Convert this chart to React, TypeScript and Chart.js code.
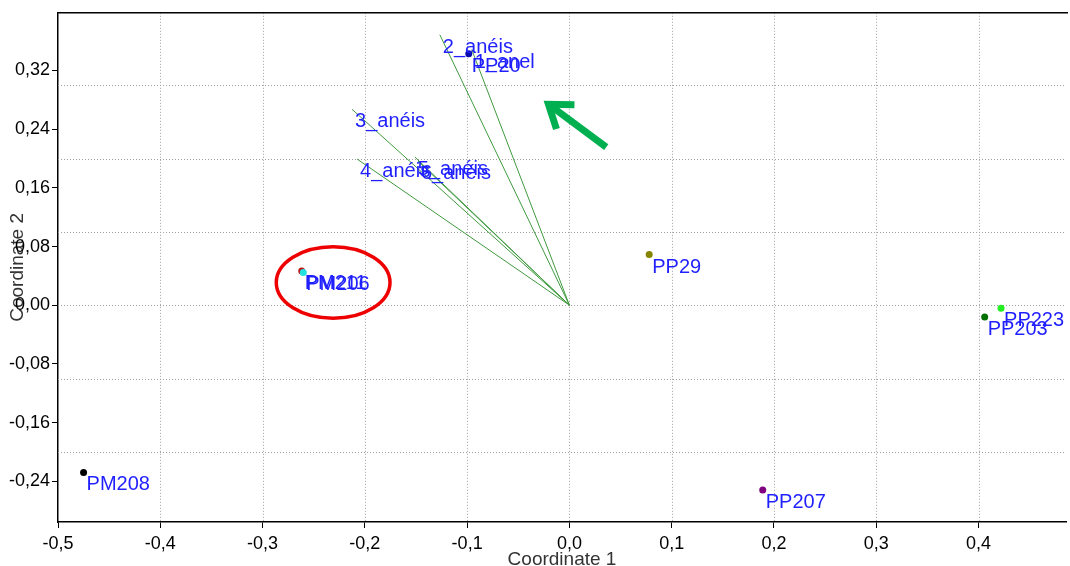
import React, { useEffect, useRef } from "react";
import { Chart, registerables } from "chart.js";

Chart.register(...registerables);

// Samples (ordination scores)
const SAMPLE_NAMES = ["PM208", "PM211", "PM206", "PP20", "PP29", "PP207", "PP203", "PP223"];
const SAMPLE_X = [-0.475, -0.2617, -0.2602, -0.0984, 0.078, 0.189, 0.406, 0.422];
const SAMPLE_Y = [-0.228, 0.0468, 0.0447, 0.343, 0.069, -0.252, -0.016, -0.004];
const SAMPLE_COLORS = ["#000000", "#c01010", "#22e0e0", "#0a0ab0", "#858500", "#800080", "#007000", "#22ee22"];

// Variable loadings (biplot vectors from the origin)
const VAR_NAMES = ["1_anel", "2_anéis", "3_anéis", "4_anéis", "5_anéis", "6_anéis"];
const VAR_X = [-0.0955, -0.1267, -0.2125, -0.2076, -0.1511, -0.1481];
const VAR_Y = [0.3485, 0.3688, 0.2671, 0.1993, 0.202, 0.1966];

// Axis ticks
const X_TICKS = [-0.5, -0.4, -0.3, -0.2, -0.1, 0, 0.1, 0.2, 0.3, 0.4];
const Y_TICKS = [-0.24, -0.16, -0.08, 0, 0.08, 0.16, 0.24, 0.32];
const GRID_X = [-0.4, -0.3, -0.2, -0.1, 0, 0.1, 0.2, 0.3, 0.4];
const GRID_Y = [-0.2, -0.1, 0, 0.1, 0.2, 0.3];

// Highlight marks, in data units
const HIGHLIGHT_ELLIPSE = { cx: -0.231, cy: 0.031, rx: 0.0556, ry: 0.0488 };
const HIGHLIGHT_ARROW = { tipX: -0.0205, tipY: 0.274, tailX: 0.036, tailY: 0.2156 };

const FONT = "'Liberation Sans', Arial, sans-serif";
const LABEL_COLOR = "#1f1fff";
const VECTOR_COLOR = "#3f9a3f";

const decorPlugin = {
  id: "decor",
  beforeDatasetsDraw(chart: any) {
    const { ctx, chartArea, scales } = chart;
    const xs = scales.x;
    const ys = scales.y;
    ctx.save();
    ctx.strokeStyle = "#a0a0a0";
    ctx.lineWidth = 1;
    ctx.setLineDash([1, 2]);
    for (const v of GRID_X) {
      const px = Math.round(xs.getPixelForValue(v)) + 0.5;
      ctx.beginPath();
      ctx.moveTo(px, chartArea.top);
      ctx.lineTo(px, chartArea.bottom);
      ctx.stroke();
    }
    for (const v of GRID_Y) {
      const py = Math.round(ys.getPixelForValue(v)) + 0.5;
      ctx.beginPath();
      ctx.moveTo(chartArea.left, py);
      ctx.lineTo(chartArea.right, py);
      ctx.stroke();
    }
    ctx.setLineDash([]);
    ctx.strokeStyle = "#000";
    ctx.lineWidth = 1.5;
    ctx.beginPath();
    ctx.moveTo(chartArea.left, chartArea.top);
    ctx.lineTo(chartArea.right + 2, chartArea.top);
    ctx.stroke();
    ctx.restore();
  },
  afterDatasetsDraw(chart: any) {
    const { ctx, scales } = chart;
    const xs = scales.x;
    const ys = scales.y;
    ctx.save();
    ctx.font = `20px ${FONT}`;
    ctx.fillStyle = LABEL_COLOR;
    ctx.textAlign = "left";
    ctx.textBaseline = "alphabetic";
    VAR_NAMES.forEach((name, i) => {
      const px = xs.getPixelForValue(VAR_X[i]);
      const py = ys.getPixelForValue(VAR_Y[i]);
      ctx.fillText(name, px + 3, py + 18);
    });
    SAMPLE_NAMES.forEach((name, i) => {
      const px = xs.getPixelForValue(SAMPLE_X[i]);
      const py = ys.getPixelForValue(SAMPLE_Y[i]);
      ctx.fillText(name, px + 3, py + 18);
    });

    // red ellipse
    const e = HIGHLIGHT_ELLIPSE;
    const ecx = xs.getPixelForValue(e.cx);
    const ecy = ys.getPixelForValue(e.cy);
    const erx = Math.abs(xs.getPixelForValue(e.cx + e.rx) - ecx);
    const ery = Math.abs(ys.getPixelForValue(e.cy + e.ry) - ecy);
    ctx.strokeStyle = "#ee0000";
    ctx.lineWidth = 3.5;
    ctx.beginPath();
    ctx.ellipse(ecx, ecy, erx, ery, 0, 0, Math.PI * 2);
    ctx.stroke();

    // green arrow
    const a = HIGHLIGHT_ARROW;
    const tx = xs.getPixelForValue(a.tipX);
    const ty = ys.getPixelForValue(a.tipY);
    const bx = xs.getPixelForValue(a.tailX);
    const by = ys.getPixelForValue(a.tailY);
    const ang = Math.atan2(by - ty, bx - tx);
    const head = 26;
    const spread = 0.62;
    ctx.strokeStyle = "#00b050";
    ctx.lineWidth = 7;
    ctx.lineCap = "butt";
    ctx.lineJoin = "miter";
    ctx.beginPath();
    ctx.moveTo(bx, by);
    ctx.lineTo(tx + Math.cos(ang) * 3, ty + Math.sin(ang) * 3);
    ctx.stroke();
    ctx.beginPath();
    ctx.moveTo(tx + Math.cos(ang - spread) * head, ty + Math.sin(ang - spread) * head);
    ctx.lineTo(tx, ty);
    ctx.lineTo(tx + Math.cos(ang + spread) * head, ty + Math.sin(ang + spread) * head);
    ctx.stroke();
    ctx.restore();
  },
};

const fmt = (v: number, d: number) => v.toFixed(d).replace(".", ",");

export default function App() {
  const ref = useRef<HTMLCanvasElement | null>(null);

  useEffect(() => {
    document.body.style.margin = "0";
    const canvas = ref.current;
    if (!canvas) return;

    const vectorSets = VAR_NAMES.map((name, i) => ({
      type: "line" as const,
      label: name,
      data: [
        { x: 0, y: 0 },
        { x: VAR_X[i], y: VAR_Y[i] },
      ],
      borderColor: VECTOR_COLOR,
      borderWidth: 1,
      pointRadius: 0,
      fill: false,
    }));

    const chart = new Chart(canvas, {
      type: "scatter",
      data: {
        datasets: [
          ...vectorSets,
          {
            type: "scatter" as const,
            label: "Samples",
            data: SAMPLE_NAMES.map((_, i) => ({ x: SAMPLE_X[i], y: SAMPLE_Y[i] })),
            pointBackgroundColor: SAMPLE_COLORS,
            pointBorderColor: SAMPLE_COLORS,
            pointRadius: 3.5,
            borderWidth: 0,
          },
        ] as any,
      },
      options: {
        responsive: false,
        animation: false,
        devicePixelRatio: 1,
        layout: { padding: { top: 9, right: 2, left: 0, bottom: 0 } },
        plugins: { legend: { display: false }, tooltip: { enabled: false } },
        scales: {
          x: {
            type: "linear",
            min: -0.5,
            max: 0.4855,
            afterBuildTicks: (s: any) => {
              s.ticks = X_TICKS.map((v) => ({ value: v }));
            },
            afterFit: (s: any) => {
              s.height = 44;
            },
            ticks: {
              autoSkip: false,
              maxRotation: 0,
              padding: 5,
              color: "#000",
              font: { size: 18, family: FONT },
              callback: (v: any) => fmt(Number(v), 1),
            },
            grid: { display: true, drawOnChartArea: false, drawTicks: true, tickLength: 6, color: "#000" },
            border: { display: true, color: "#000", width: 1.5 },
            title: {
              display: true,
              text: "Coordinate 1",
              color: "#333",
              font: { size: 19, family: FONT, lineHeight: 0.7 },
              padding: 0,
            },
          },
          y: {
            type: "linear",
            min: -0.2956,
            max: 0.3987,
            afterBuildTicks: (s: any) => {
              s.ticks = Y_TICKS.map((v) => ({ value: v }));
            },
            afterFit: (s: any) => {
              s.width = 58;
            },
            ticks: {
              autoSkip: false,
              padding: 2,
              color: "#000",
              font: { size: 18, family: FONT },
              callback: (v: any) => fmt(Number(v), 2),
            },
            grid: { display: true, drawOnChartArea: false, drawTicks: true, tickLength: 6, color: "#000" },
            border: { display: true, color: "#000", width: 1.5 },
            title: {
              display: true,
              text: "Coordinate 2",
              color: "#333",
              font: { size: 19, family: FONT, lineHeight: 1 },
              padding: { top: 8, bottom: 0 },
            },
          },
        },
      } as any,
      plugins: [decorPlugin],
    });

    return () => chart.destroy();
  }, []);

  return (
    <div style={{ position: "absolute", left: 0, top: 0, width: 1070, height: 566, background: "#fff" }}>
      <canvas ref={ref} width={1070} height={566} style={{ display: "block" }} />
    </div>
  );
}
